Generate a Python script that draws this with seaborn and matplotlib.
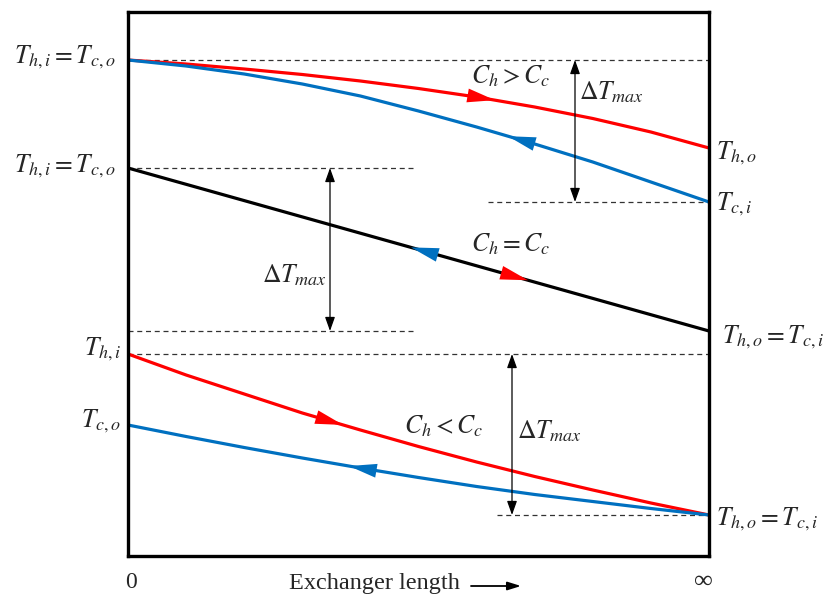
import numpy as np
import pandas as pd
import matplotlib
matplotlib.use("Agg")
import matplotlib.pyplot as plt
import seaborn as sns

# ---------------- data (length fraction, temperature in arbitrary units) ----------------
length = [0.0, 0.1, 0.2, 0.3, 0.4, 0.5, 0.6, 0.7, 0.8, 0.9, 1.0]

# Case 1: C_h > C_c
hot_gt = [496, 492, 487, 481.5, 475, 467.5, 459, 449, 437.5, 424, 408]
cold_gt = [496, 490, 482, 472, 460, 445, 429, 412, 394, 374, 354]

# Case 2: C_h = C_c
eq_len = [0.0, 1.0]
eq_temp = [388, 225]

# Case 3: C_h < C_c
hot_lt = [202, 181, 162, 143, 126, 109.5, 94, 79.5, 66, 53, 41]
cold_lt = [131, 119.5, 108.5, 98, 88, 78.5, 69.5, 61.5, 54.5, 47.5, 41]

RED = "#FF0000"
BLUE = "#0070C0"

sns.set_style("white")
plt.rcParams["mathtext.fontset"] = "stix"

fig = plt.figure(figsize=(8.25, 5.96), dpi=100)
ax = fig.add_axes([128 / 825, 40 / 596, 581 / 825, 544 / 596])
ax.set_xlim(0, 1)
ax.set_ylim(0, 544)
ax.set_xticks([])
ax.set_yticks([])
for s in ax.spines.values():
    s.set_color("black")
    s.set_linewidth(2.4)


def X(px):
    return (px - 128) / 581


def Y(py):
    return 556 - py


# dashed reference lines
dash_kw = dict(color="#333333", lw=0.9, ls=(0, (4, 3)))
ax.plot([0, 1], [hot_gt[0], hot_gt[0]], **dash_kw)
ax.plot([X(488), 1], [cold_gt[-1], cold_gt[-1]], **dash_kw)
ax.plot([0, X(415)], [eq_temp[0], eq_temp[0]], **dash_kw)
ax.plot([0, X(415)], [eq_temp[-1], eq_temp[-1]], **dash_kw)
ax.plot([0, 1], [hot_lt[0], hot_lt[0]], **dash_kw)
ax.plot([X(497), 1], [hot_lt[-1], hot_lt[-1]], **dash_kw)

# curves
lw = 2.3
df1h = pd.DataFrame({"x": length, "T": hot_gt})
df1c = pd.DataFrame({"x": length, "T": cold_gt})
df2 = pd.DataFrame({"x": eq_len, "T": eq_temp})
df3h = pd.DataFrame({"x": length, "T": hot_lt})
df3c = pd.DataFrame({"x": length, "T": cold_lt})
for d, c in [(df1h, RED), (df1c, BLUE), (df2, "black"), (df3h, RED), (df3c, BLUE)]:
    sns.lineplot(data=d, x="x", y="T", color=c, lw=lw, ax=ax, sort=False,
                 solid_joinstyle="round", solid_capstyle="round")
ax.set_xlabel("")
ax.set_ylabel("")


def head(xs, ys, x_tip, direction, color):
    y_tip = np.interp(x_tip, xs, ys)
    xb = x_tip - direction * 0.003
    yb = np.interp(xb, xs, ys)
    ax.annotate("", xy=(x_tip, y_tip), xytext=(xb, yb),
                arrowprops=dict(arrowstyle="-|>,head_length=1.0,head_width=0.25",
                                mutation_scale=20, color=color, lw=0,
                                shrinkA=0, shrinkB=0))


head(length, hot_gt, X(495), 1, RED)
head(length, cold_gt, X(508), -1, BLUE)
head(eq_len, eq_temp, X(411), -1, BLUE)
head(eq_len, eq_temp, X(528), 1, RED)
head(length, hot_lt, X(343), 1, RED)
head(length, cold_lt, X(349), -1, BLUE)


def vdouble(x, t1, t2):
    ax.annotate("", xy=(x, t2), xytext=(x, t1),
                arrowprops=dict(arrowstyle="<|-|>,head_length=0.7,head_width=0.25",
                                mutation_scale=12, lw=0.9, color="black",
                                shrinkA=0, shrinkB=0))


vdouble(X(575), hot_gt[0], cold_gt[-1])
vdouble(X(330), eq_temp[0], eq_temp[-1])
vdouble(X(512), hot_lt[0], hot_lt[-1])

fs = 18.5
# in-plot labels
ax.text(X(471), Y(76), r"$C_h > C_c$", fontsize=fs, va="center", ha="left")
ax.text(X(579), Y(92), r"$\Delta T_{max}$", fontsize=fs, va="center", ha="left")
ax.text(X(471), Y(244), r"$C_h = C_c$", fontsize=fs, va="center", ha="left")
ax.text(X(327), Y(275), r"$\Delta T_{max}$", fontsize=fs, va="center", ha="right")
ax.text(X(404), Y(426), r"$C_h < C_c$", fontsize=fs, va="center", ha="left")
ax.text(X(517), Y(431), r"$\Delta T_{max}$", fontsize=fs, va="center", ha="left")

# left labels
ax.text(X(116), Y(57), r"$T_{h,i} = T_{c,o}$", fontsize=fs, va="center", ha="right")
ax.text(X(116), Y(166), r"$T_{h,i} = T_{c,o}$", fontsize=fs, va="center", ha="right")
ax.text(X(121), Y(349), r"$T_{h,i}$", fontsize=fs, va="center", ha="right")
ax.text(X(121), Y(421), r"$T_{c,o}$", fontsize=fs, va="center", ha="right")

# right labels
ax.text(X(716), Y(153), r"$T_{h,o}$", fontsize=fs, va="center", ha="left")
ax.text(X(716), Y(204), r"$T_{c,i}$", fontsize=fs, va="center", ha="left")
ax.text(X(722), Y(337), r"$T_{h,o} = T_{c,i}$", fontsize=fs, va="center", ha="left")
ax.text(X(716), Y(519), r"$T_{h,o} = T_{c,i}$", fontsize=fs, va="center", ha="left")

# bottom annotations
serif = "Liberation Serif"
ax.text(X(131), Y(582), "0", fontsize=17, family=serif, va="center", ha="center")
ax.text(X(289), Y(584), "Exchanger length", fontsize=17.5, family=serif, va="center", ha="left")
ax.text(X(703), Y(582), "\u221e", fontsize=19, family=serif, va="center", ha="center")
ax.annotate("", xy=(X(521), Y(586)), xytext=(X(471), Y(586)), annotation_clip=False,
            arrowprops=dict(arrowstyle="-|>,head_length=0.8,head_width=0.25",
                            mutation_scale=10, lw=1.3, color="black",
                            shrinkA=0, shrinkB=0))

fig.savefig("out.png", dpi=100)
